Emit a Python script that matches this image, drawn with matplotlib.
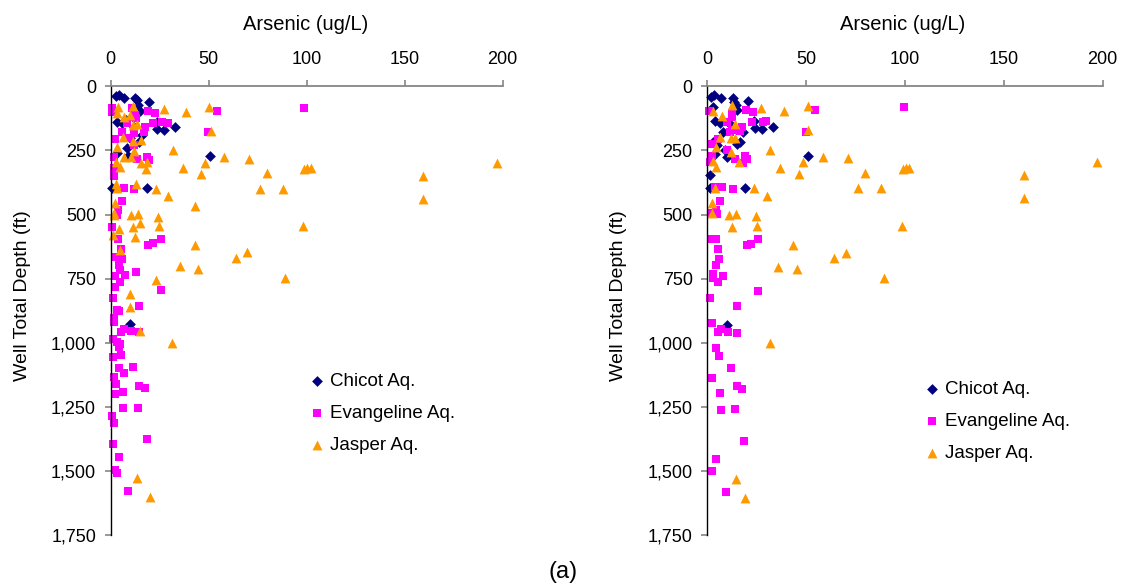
import numpy as np
import matplotlib
matplotlib.use("Agg")
import matplotlib.pyplot as plt

plt.rcParams['font.family'] = ['Liberation Sans', 'DejaVu Sans']

# (arsenic ug/L, well depth ft)
left_chicot = [(2.5, 37), (4, 35), (6.8, 47), (12.4, 44), (13.6, 55), (19.5, 62), (14, 73),
               (15, 95), (3.4, 138), (5.9, 144), (8, 130), (23.8, 138), (23.8, 168), (27.2, 170),
               (32.8, 160), (8.5, 242), (14.4, 216), (16.1, 190), (10, 200), (9, 272), (50.7, 272),
               (18.7, 398), (0.5, 398), (9.7, 927), (3, 260), (12, 160)]
left_evang = [(0.5, 86), (0.8, 99), (11, 86), (12.2, 112), (13, 125), (18.9, 96), (22.6, 103),
              (54.4, 96), (98.8, 86), (21.7, 142), (29, 142), (26, 140), (17.3, 157), (17, 177),
              (8.5, 144), (6, 177), (11.9, 183), (49.5, 180), (2.4, 207), (9.3, 203), (12, 230),
              (1.5, 275), (18.7, 275), (19.6, 287), (13.5, 283), (1.7, 320), (1.8, 348), (6.8, 398),
              (12.1, 402), (6, 446), (3.9, 482), (3.2, 502), (0.7, 550), (3.5, 597), (19.2, 617),
              (21.7, 612), (25.6, 597), (5.1, 636), (2.4, 665), (5.8, 675), (4, 697), (4.7, 717),
              (7.5, 736), (12.8, 726), (2.4, 741), (4.9, 762), (2.4, 784), (25.5, 794), (1.2, 827),
              (14.5, 857), (3.4, 872), (4.4, 875), (1.7, 902), (1.7, 920), (5.2, 957), (6.8, 948),
              (10.6, 954), (14.4, 957), (1.1, 987), (3.1, 998), (5, 1006), (4.2, 1018), (1, 1054),
              (5.2, 1048), (4.2, 1099), (6.9, 1120), (11.3, 1093), (1.7, 1134), (2.8, 1160),
              (14.5, 1168), (17.5, 1176), (2.2, 1200), (6.4, 1193), (6.4, 1253), (13.8, 1253),
              (0.5, 1286), (1.8, 1314), (18.4, 1377), (1.3, 1395), (4.2, 1447), (2.2, 1496),
              (3, 1510), (9, 1577)]
left_jasper = [(3.7, 80), (11.5, 77), (27.2, 90), (38.6, 101), (50.3, 80), (3.4, 103), (6.8, 121),
               (9.8, 112), (11.5, 151), (13.6, 147), (51, 173), (6.4, 199), (11.5, 212), (15.6, 209),
               (3.4, 238), (11.9, 251), (32, 248), (6.8, 277), (10.2, 277), (2.5, 294), (4.6, 316),
               (15.6, 298), (18.7, 294), (17.9, 324), (36.7, 320), (48.1, 298), (46.1, 343),
               (58, 277), (70.7, 284), (79.7, 339), (98.6, 324), (100.3, 320), (102, 320),
               (197, 298), (159.5, 349), (159.5, 440), (2.5, 381), (12.8, 381), (3.4, 398),
               (23, 399), (76, 399), (87.9, 399), (29.5, 428), (42.9, 466), (2.2, 454), (1.7, 493),
               (1.7, 502), (10.5, 502), (14, 498), (24, 509), (14.8, 532), (24.7, 545), (11.5, 550),
               (4.4, 558), (1.2, 580), (12.4, 589), (42.8, 618), (5, 637), (64.2, 668), (69.8, 648),
               (35.6, 700), (44.5, 712), (23, 755), (89, 748), (98, 545), (9.7, 810), (9.7, 860),
               (14.8, 954), (31.4, 1002), (13.6, 1526), (20.1, 1600)]

right_chicot = [(1.7, 40), (3.5, 34), (7.1, 45), (12.9, 44), (20.4, 58), (13.6, 60), (14.5, 73),
                (14.9, 93), (3, 82), (3.9, 134), (6.4, 144), (23.6, 134), (24.1, 161), (27.5, 168),
                (33.4, 158), (8.1, 177), (3, 216), (16.5, 218), (14.9, 225), (4.8, 229), (8.9, 248),
                (9.8, 277), (3.9, 264), (51.1, 272), (1.5, 346), (1.2, 396), (18.9, 396),
                (10.1, 931), (12, 150), (18, 180)]
right_evang = [(0.8, 95), (19.6, 92), (23, 100), (54.7, 92), (99.4, 82), (12.3, 105), (12.3, 119),
               (10, 140), (17.4, 157), (22.5, 140), (28.4, 140), (29.7, 134), (12.3, 170),
               (11.5, 177), (16.5, 175), (49.9, 177), (5.2, 206), (2.4, 225), (9.8, 248), (2.2, 273),
               (1.6, 297), (14, 282), (19.1, 273), (19.9, 284), (18.2, 300), (3.9, 394), (7.3, 393),
               (12.8, 402), (6.4, 447), (4.6, 484), (4.8, 498), (2.2, 494), (2.2, 597), (4.2, 597),
               (19.9, 618), (22, 614), (25.8, 597), (5.6, 636), (6.1, 675), (4.4, 697), (3, 733),
               (2.7, 749), (5.6, 763), (7.8, 739), (25.8, 798), (1.4, 824), (14.9, 857), (2.2, 922),
               (5.6, 958), (6.8, 948), (10.6, 958), (14.9, 963), (4.4, 1019), (6.1, 1052),
               (12, 1100), (2.2, 1139), (14.9, 1170), (17.6, 1180), (6.4, 1197), (6.9, 1262),
               (14, 1259), (18.7, 1382), (4.4, 1455), (2.5, 1500), (9.3, 1583)]
right_jasper = [(3, 96), (12.3, 73), (27.2, 86), (39, 96), (50.7, 77), (7.6, 114), (13.8, 146),
                (51.1, 170), (6.4, 197), (11.8, 203), (13.8, 203), (4.4, 235), (12.2, 255),
                (31.7, 248), (2.7, 292), (4.6, 315), (16, 294), (36.8, 317), (46.6, 342),
                (48.6, 295), (58.4, 277), (71, 281), (79.8, 339), (99.1, 324), (100.5, 317),
                (102.2, 317), (197, 294), (160.2, 346), (160.2, 437), (98.7, 545), (89.5, 748),
                (70, 649), (64.2, 668), (43.2, 620), (36, 703), (45.2, 712), (3.9, 396), (23.6, 396),
                (76, 396), (87.8, 396), (30, 429), (2.2, 455), (2.5, 495), (11, 500), (14.4, 497),
                (24.5, 507), (24.9, 545), (12.3, 550), (31.8, 1000), (14.4, 1533), (19, 1604)]

series_names = ['Chicot Aq.', 'Evangeline Aq.', 'Jasper Aq.']
x_ticks = [0, 50, 100, 150, 200]
y_ticks = [0, 250, 500, 750, 1000, 1250, 1500, 1750]
y_tick_labels = ['0', '250', '500', '750', '1,000', '1,250', '1,500', '1,750']

styles = [dict(marker='D', s=30, color='#000080'),
          dict(marker='s', s=34, color='#FF00FF'),
          dict(marker='^', s=50, color='#FF9900')]


def draw_panel(ax, groups, legend_anchor, xlabel_x):
    for pts, name, st in zip(groups, series_names, styles):
        pts = np.array(pts)
        ax.scatter(pts[:, 0], pts[:, 1], label=name, linewidths=0, clip_on=False, **st)
    ax.set_xlim(0, 200)
    ax.set_ylim(1750, 0)
    ax.xaxis.tick_top()
    ax.xaxis.set_label_position('top')
    ax.set_xticks(x_ticks)
    ax.set_yticks(y_ticks)
    ax.set_yticklabels(y_tick_labels)
    ax.spines['right'].set_visible(False)
    ax.spines['bottom'].set_visible(False)
    ax.spines['top'].set_color('#868686')
    ax.spines['top'].set_linewidth(1.3)
    ax.spines['left'].set_color('black')
    ax.spines['left'].set_linewidth(1.0)
    ax.tick_params(axis='x', direction='out', length=4.5, width=1.2, color='#868686',
                   pad=9, labelsize=13)
    ax.tick_params(axis='y', direction='out', length=4.5, width=1.2, color='#868686',
                   pad=6, labelsize=13)
    ax.set_xlabel('Arsenic (ug/L)', fontsize=14.5)
    ax.set_ylabel('Well Total Depth (ft)', fontsize=14)
    ax.xaxis.set_label_coords(xlabel_x, 1.125)
    ax.yaxis.set_label_coords(-0.203, 0.533)
    ax.legend(loc='center left', bbox_to_anchor=legend_anchor, frameon=False, fontsize=13.5,
              scatterpoints=1, handlelength=1.0, handletextpad=0.2, labelspacing=0.8,
              borderpad=0, borderaxespad=0)


fig = plt.figure(figsize=(11.27, 5.86), dpi=100)
ax1 = fig.add_axes([0.0982, 0.0870, 0.3478, 0.7657])
ax2 = fig.add_axes([0.6276, 0.0870, 0.3508, 0.7657])

draw_panel(ax1, [left_chicot, left_evang, left_jasper], (0.503, 0.271), 0.497)
draw_panel(ax2, [right_chicot, right_evang, right_jasper], (0.5455, 0.253), 0.495)

fig.text(0.4995, 0.024, '(a)', ha='center', va='center', fontsize=17)

fig.savefig('out.png', dpi=100)
